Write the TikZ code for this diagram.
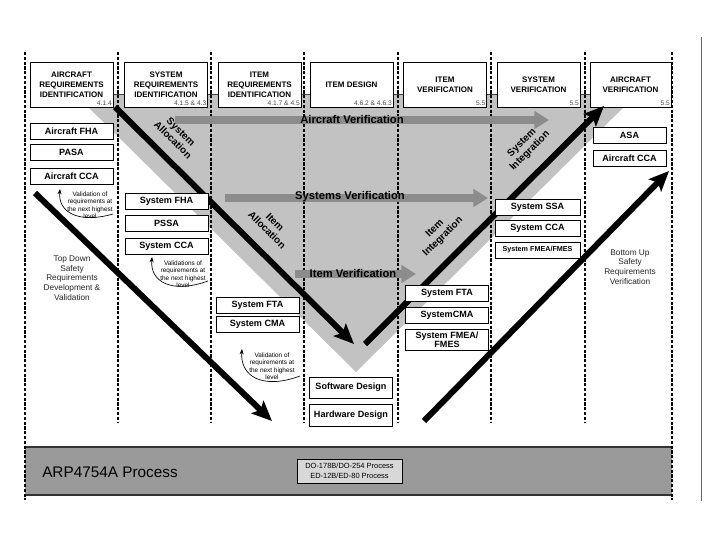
\documentclass[tikz,border=0pt]{standalone}
\usepackage{fontspec}
\setmainfont{Liberation Sans}
\usetikzlibrary{arrows.meta}
\definecolor{vgray}{HTML}{C2C2C2}
\definecolor{agray}{HTML}{8C8C8C}
\definecolor{bgray}{HTML}{9A9A9A}
\definecolor{dgray}{HTML}{D8D8D8}
\begin{document}
\begin{tikzpicture}[x=0.75pt,y=-0.75pt,
  hdr/.style={draw, fill=white, line width=0.6pt, minimum width=62.25pt, minimum height=33.75pt, inner sep=0pt, align=center, font=\fontsize{6}{7.5}\selectfont\bfseries},
  hnum/.style={anchor=south east, inner sep=1pt, font=\fontsize{5}{6}\selectfont, text=black!70},
  sbox/.style={draw, fill=white, line width=0.6pt, minimum width=62.25pt, minimum height=12pt, inner sep=0pt, align=center, font=\fontsize{6.8}{7.8}\selectfont\bfseries},
  divline/.style={line width=1.4pt, dash pattern=on 2.4pt off 1.2pt},
  garrow/.style={agray, line width=6pt, -{Triangle[length=11pt,width=13pt]}},
  barrow/.style={black, line width=4.5pt, -{Stealth[length=15pt,width=13pt,inset=3pt]}},
  glabel/.style={font=\fontsize{8.4}{10}\selectfont\bfseries, inner sep=0pt},
  dlabel/.style={font=\fontsize{7.5}{8.5}\selectfont\bfseries, align=center, inner sep=0pt},
  note/.style={font=\fontsize{4.8}{5.6}\selectfont, align=center, inner sep=0pt},
  side/.style={font=\fontsize{6.2}{7.3}\selectfont, align=center, inner sep=0pt, text=black!85},
  varrow/.style={line width=0.5pt, -{Stealth[length=4pt,width=3pt]}}
]
\useasboundingbox[fill=white] (0,0) rectangle (720,540);

% grey V
\fill[vgray] (75,94) -- (637,94) -- (356,372) -- cycle;
\draw[line width=0.5pt, black!75] (75,94) -- (637,94);

% bottom band
\fill[bgray] (25,447) rectangle (672,495);
\draw[line width=0.8pt, black!80] (25,447) -- (672,447) (25,495) -- (672,495);
\node[draw, fill=dgray, line width=0.6pt, minimum width=78.75pt, minimum height=18pt, inner sep=0pt, align=center, font=\fontsize{5.6}{7.4}\selectfont] (do) at (349.5,471) {DO-178B/DO-254 Process\\ED-12B/ED-80 Process};
\node[anchor=west, font=\fontsize{11.5}{13}\selectfont, inner sep=0pt] (arp) at (42,472) {ARP4754A Process};

% column dividers
\draw[divline] (25,52) -- (25,500);
\draw[divline] (672,52) -- (672,500);
\foreach \xx in {118,211,304,398,491,585} \draw[divline] (\xx,52) -- (\xx,422);
\draw[line width=0.6pt, black!60] (701,37) -- (701,501);

% header boxes
\node[hdr] (h1) at (71.5,84.5) {AIRCRAFT\\REQUIREMENTS\\IDENTIFICATION};
\node[hnum] (h1n) at (h1.south east) {4.1.4};
\node[hdr] (h2) at (166,84.5) {SYSTEM\\REQUIREMENTS\\IDENTIFICATION};
\node[hnum] (h2n) at (h2.south east) {4.1.5 \& 4.3};
\node[hdr] (h3) at (259.5,84.5) {ITEM\\REQUIREMENTS\\IDENTIFICATION};
\node[hnum] (h3n) at (h3.south east) {4.1.7 \& 4.5};
\node[hdr] (h4) at (351.5,84.5) {ITEM DESIGN};
\node[hnum] (h4n) at (h4.south east) {4.6.2 \& 4.6.3};
\node[hdr] (h5) at (445,84.5) {ITEM\\VERIFICATION};
\node[hnum] (h5n) at (h5.south east) {5.5};
\node[hdr] (h6) at (538.5,84.5) {SYSTEM\\VERIFICATION};
\node[hnum] (h6n) at (h6.south east) {5.5};
\node[hdr, minimum width=60.75pt] (h7) at (630.5,84.5) {AIRCRAFT\\VERIFICATION};
\node[hnum] (h7n) at (h7.south east) {5.5};

% grey verification arrows
\coordinate (av1) at (175,120); \coordinate (av2) at (549,120);
\draw[garrow] (av1) -- (av2);
\node[glabel] (avl) at (352,119) {Aircraft Verification};
\coordinate (sv1) at (225,198); \coordinate (sv2) at (488,198);
\draw[garrow] (sv1) -- (sv2);
\node[glabel] (svl) at (350,197) {Systems Verification};
\coordinate (iv1) at (295,274); \coordinate (iv2) at (416,274);
\draw[garrow] (iv1) -- (iv2);
\node[glabel] (ivl) at (353,273) {Item Verification};

% black arrows
\coordinate (sa1) at (115,107); \coordinate (sa2) at (354,344);
\draw[barrow] (sa1) -- (sa2);
\coordinate (si1) at (365,344); \coordinate (si2) at (604,106);
\draw[barrow] (si1) -- (si2);
\coordinate (td1) at (35,193); \coordinate (td2) at (272,421);
\draw[barrow] (td1) -- (td2);
\coordinate (bu1) at (424,421); \coordinate (bu2) at (669,171);
\draw[barrow] (bu1) -- (bu2);

\node[dlabel, rotate=-45] (sal) at (177,136) {System\\Allocation};
\node[dlabel, rotate=-45] (ial) at (271,226) {Item\\Allocation};
\node[dlabel, rotate=45] (iil) at (439,233) {Item\\Integration};
\node[dlabel, rotate=45] (sil) at (526,147) {System\\Integration};

% side boxes
\node[sbox] (afha) at (71.5,131) {Aircraft FHA};
\node[sbox] (pasa) at (71.5,152.5) {PASA};
\node[sbox] (acca) at (71.5,176.5) {Aircraft CCA};

\node[sbox] (sfha) at (166.5,201) {System FHA};
\node[sbox] (pssa) at (166.5,223) {PSSA};
\node[sbox] (scca) at (166.5,246.5) {System CCA};

\node[sbox] (sfta) at (257.5,305) {System FTA};
\node[sbox] (scma) at (257.5,324.5) {System CMA};

\node[sbox, minimum height=15.75pt] (swd) at (351,387.5) {Software Design};
\node[sbox, minimum height=17pt] (hwd) at (351,415.5) {Hardware Design};

\node[sbox] (sfta2) at (447,293) {System FTA};
\node[sbox] (scma2) at (447,315) {SystemCMA};
\node[sbox, minimum height=15.75pt, font=\fontsize{6.8}{7}\selectfont\bfseries] (sfmea) at (447,339.5) {System FMEA/\\FMES};

\node[sbox, minimum width=63.75pt] (sssa) at (537.5,207) {System SSA};
\node[sbox, minimum width=63.75pt] (scca2) at (537.5,228.5) {System CCA};
\node[sbox, minimum width=63.75pt, font=\fontsize{5.4}{6.4}\selectfont\bfseries] (sfmea2) at (537.5,250) {System FMEA/FMES};

\node[sbox, minimum width=54.75pt] (asa) at (629.5,135) {ASA};
\node[sbox, minimum width=54.75pt] (acca2) at (629.5,158.5) {Aircraft CCA};

% validation notes
\node[note] (n1) at (90,205) {Validation of\\requirements at\\the next highest\\level};
\coordinate (n1a) at (113,214); \coordinate (n1b) at (60,189);
\draw[varrow] (n1a) .. controls (78,224) and (58,212) .. (n1b);

\node[note] (n2) at (183,274) {Validations of\\requirements at\\the next highest\\level};
\coordinate (n2a) at (208,281); \coordinate (n2b) at (152,257);
\draw[varrow] (n2a) .. controls (172,294) and (150,282) .. (n2b);

\node[note] (n3) at (272,366) {Validation of\\requirements at\\the next highest\\level};
\coordinate (n3a) at (300,376); \coordinate (n3b) at (242,349);
\draw[varrow] (n3a) .. controls (262,390) and (240,376) .. (n3b);

% side texts
\node[side] (td) at (72,278) {Top Down\\Safety\\Requirements\\Development \&\\Validation};
\node[side] (bu) at (630,267) {Bottom Up\\Safety\\Requirements\\Verification};
\end{tikzpicture}
\end{document}
